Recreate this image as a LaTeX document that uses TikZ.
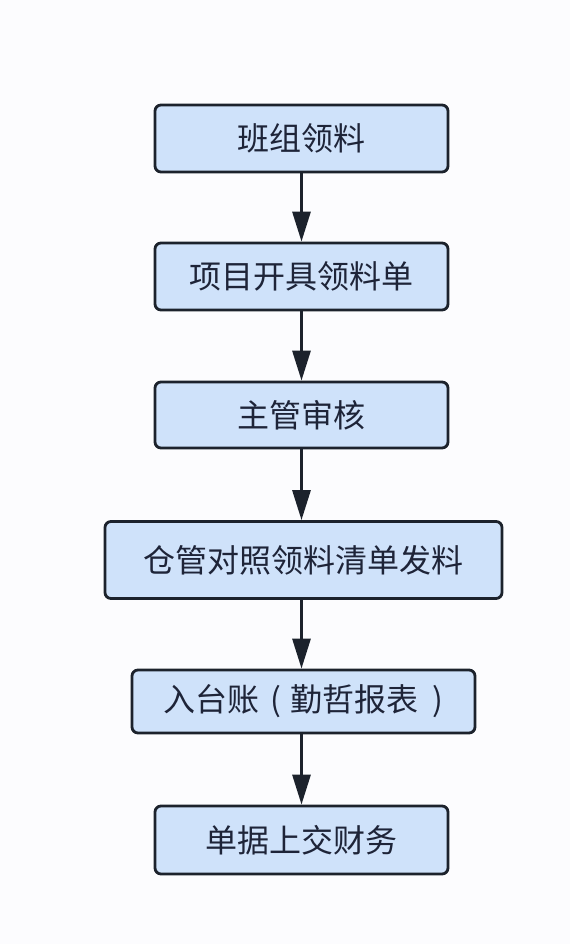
\documentclass[tikz,border=0pt]{standalone}
\usepackage{fontspec}
\newfontfamily\cjk{Noto Sans CJK SC}
\usetikzlibrary{arrows.meta}
\definecolor{boxfill}{HTML}{CFE2FA}
\definecolor{boxline}{HTML}{1C222C}
\definecolor{txt}{HTML}{1E2438}
\definecolor{bg}{HTML}{FCFCFE}
\begin{document}
\begin{tikzpicture}[x=1pt,y=-1pt,
  flowbox/.style={draw=boxline, line width=2.8pt, fill=boxfill, rounded corners=6pt,
    text=txt, font=\cjk\fontsize{32}{32}\selectfont, inner sep=0pt},
  flowarrow/.style={draw=boxline, line width=3pt, -{Triangle[length=30pt,width=18pt]}}]
\fill[bg] (0,0) rectangle (570,944);
\useasboundingbox (0,0) rectangle (570,944);
\node[flowbox, minimum width=293pt, minimum height=67pt] (b1) at (301.5,138.5) {班组领料};
\node[flowbox, minimum width=293pt, minimum height=67pt] (b2) at (301.5,276.5) {项目开具领料单};
\node[flowbox, minimum width=293pt, minimum height=66pt] (b3) at (301.5,415) {主管审核};
\node[flowbox, minimum width=397pt, minimum height=77pt] (b4) at (303.5,560) {仓管对照领料清单发料};
\node[flowbox, minimum width=343pt, minimum height=63pt] (b5) at (303.5,701.5) {入台账\hspace{11pt}(\hspace{9pt}勤哲报表\hspace{14pt})\hspace{30pt}};
\node[flowbox, minimum width=293pt, minimum height=68pt] (b6) at (301.5,840) {单据上交财务};
\draw[flowarrow] (b1.south) -- (b2.north);
\draw[flowarrow] (b2.south) -- (b3.north);
\draw[flowarrow] (b3.south) -- (b3.south |- b4.north);
\draw[flowarrow] (b3.south |- b4.south) -- (b3.south |- b5.north);
\draw[flowarrow] (b3.south |- b5.south) -- (b6.north);
\end{tikzpicture}
\end{document}
